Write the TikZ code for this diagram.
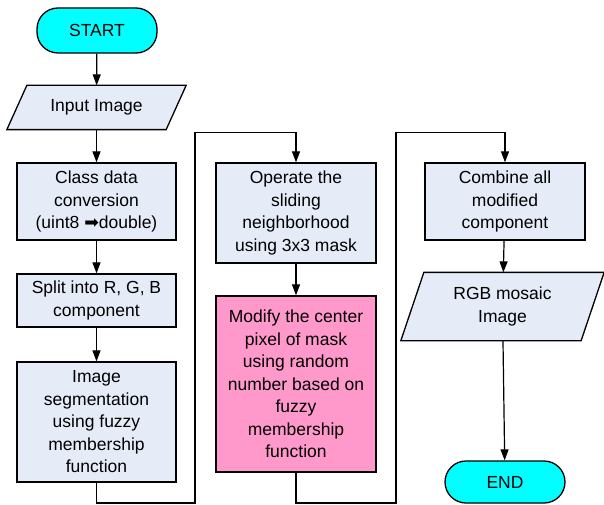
\documentclass[tikz,border=0pt]{standalone}
\usepackage{fontspec}
\setmainfont{Liberation Sans}
\newfontfamily\symfont{DejaVu Sans}
\usetikzlibrary{arrows.meta,backgrounds}
\definecolor{boxfill}{RGB}{230,236,247}
\definecolor{termfill}{RGB}{0,255,255}
\definecolor{pinkfill}{RGB}{255,153,204}
\begin{document}
\begin{tikzpicture}[x=1pt,y=-1pt,
  every node/.style={font=\fontsize{17.5}{22.5}\selectfont, align=center, inner sep=0pt, line width=1.3pt},
  term/.style={draw, fill=termfill, rounded corners=21pt, minimum width=120pt},
  procbox/.style={draw, fill=boxfill, minimum width=159pt},
  pinkbox/.style={draw, fill=pinkfill, minimum width=160pt},
  iobox/.style={},
  iofill/.style={draw, fill=boxfill, line width=1.3pt},
  conn/.style={line width=1.2pt, -{Triangle[length=11pt,width=8pt]}},
  plainconn/.style={line width=1.2pt}
]
\useasboundingbox (0,0) rectangle (604,505);

\node[term, minimum height=45pt] (start) at (97,30.5) {START};
\node[iobox, minimum width=158pt, minimum height=43pt] (in) at (96.5,107.5) {Input Image};
\node[procbox, minimum height=77pt] (class) at (96.5,201.5) {Class data\\conversion\\(uint8 {\symfont\char"27A1}double)};
\node[procbox, minimum height=53pt] (split) at (96.5,300.5) {Split into R, G, B\\component};
\node[procbox, minimum height=120pt] (seg) at (96.5,422) {Image\\segmentation\\using fuzzy\\membership\\function};

\node[procbox, minimum width=160pt, minimum height=100pt] (op) at (296,213) {Operate the\\sliding\\neighborhood\\using 3x3 mask};
\node[pinkbox, minimum height=176pt] (mod) at (296,384) {Modify the center\\pixel of mask\\using random\\number based on\\fuzzy\\membership\\function};

\node[procbox, minimum width=160pt, minimum height=77pt] (comb) at (505,201.5) {Combine all\\modified\\component};
\node[iobox, minimum width=179pt, minimum height=67pt] (rgb) at (502.5,306.5) {RGB mosaic\\Image};
\node[term, minimum height=42pt] (end) at (505,482) {END};

\begin{scope}[on background layer]
  \draw[iofill] ([xshift=10pt]in.north west) -- ([xshift=10pt]in.north east)
     -- ([xshift=-10pt]in.south east) -- ([xshift=-10pt]in.south west) -- cycle;
  \draw[iofill] ([xshift=11.5pt]rgb.north west) -- ([xshift=11.5pt]rgb.north east)
     -- ([xshift=-11.5pt]rgb.south east) -- ([xshift=-11.5pt]rgb.south west) -- cycle;
\end{scope}

\coordinate (b1) at (195,503);
\coordinate (t1) at (195,132.5);
\coordinate (b2) at (396,503);
\coordinate (t2) at (396,132.5);

\draw[conn] (start) -- (in);
\draw[conn] (in) -- (class);
\draw[conn] (class) -- (split);
\draw[conn] (split) -- (seg);
\draw[conn] (seg.south) |- (b1) -- (t1) -| (op.north);
\draw[conn] (op) -- (mod);
\draw[conn] (mod.south) |- (b2) -- (t2) -| (comb.north);
\draw[conn] (comb) -- (rgb);
\draw[conn] (rgb) -- (end);
\end{tikzpicture}
\end{document}
